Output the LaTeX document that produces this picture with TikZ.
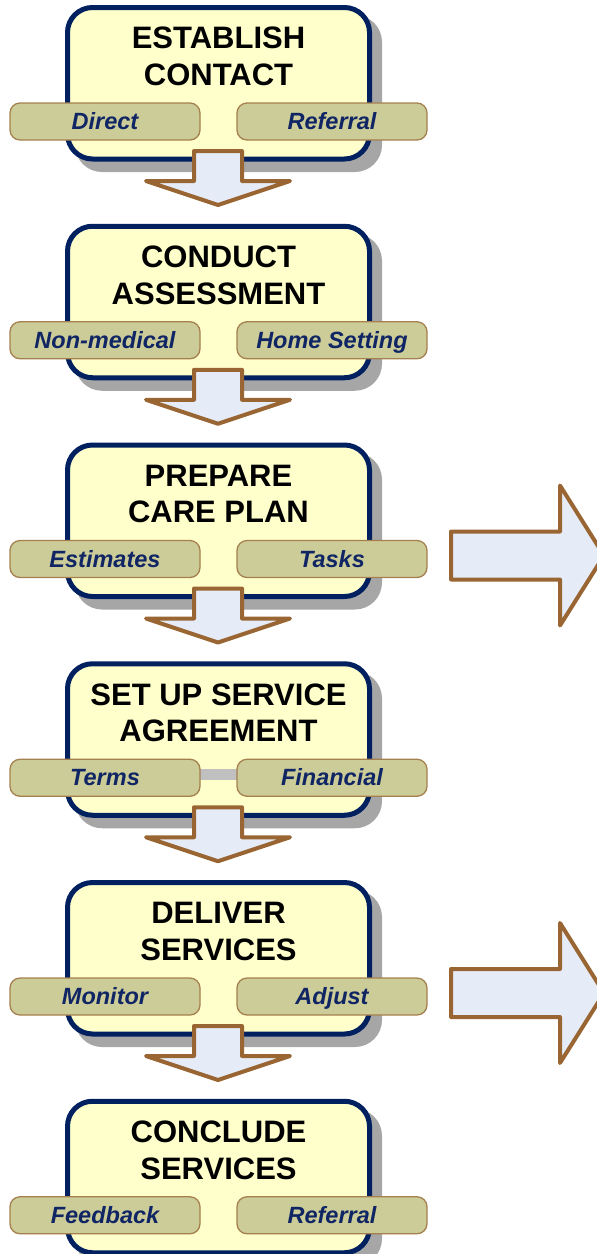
\documentclass[tikz,border=0pt]{standalone}
\usepackage{fontspec}
\setmainfont{Liberation Sans}
\definecolor{navy}{RGB}{0,32,96}
\definecolor{pilltxt}{RGB}{16,37,100}
\definecolor{boxfill}{RGB}{255,255,204}
\definecolor{pillfill}{RGB}{204,204,153}
\definecolor{pillline}{RGB}{165,128,79}
\definecolor{arrline}{RGB}{153,102,51}
\definecolor{arrfill}{RGB}{230,236,247}
\definecolor{shadowgray}{RGB}{166,166,166}
\definecolor{bargray}{RGB}{192,192,192}
\begin{document}
\begin{tikzpicture}[x=1pt,y=-1pt,
  stepbox/.style={draw=navy, line width=5pt, fill=boxfill, rounded corners=25pt,
    minimum width=302pt, minimum height=151.5pt, inner sep=0pt},
  boxshadow/.style={fill=shadowgray, rounded corners=27pt},
  title/.style={align=center, inner sep=0pt,
    font=\fontsize{31}{36.5}\selectfont\bfseries},
  pill/.style={draw=pillline, line width=1.3pt, fill=pillfill, rounded corners=10pt,
    minimum width=190pt, minimum height=37pt, inner sep=0pt,
    text height=19pt, text depth=3pt, text=pilltxt,
    font=\fontsize{23.5}{28}\selectfont\bfseries\itshape},
  blockarrow/.style={draw=arrline, fill=arrfill, line width=4pt, line join=round},
  linkbar/.style={fill=bargray}
]
\useasboundingbox (0,0) rectangle (597,1254);
\clip (0,0) rectangle (597,1254);
\foreach \k/\la/\lb/\pa/\pb in {%
  0/ESTABLISH/CONTACT/Direct/Referral,
  1/CONDUCT/ASSESSMENT/Non-medical/Home Setting,
  2/PREPARE/CARE PLAN/Estimates/Tasks,
  3/SET UP SERVICE/AGREEMENT/Terms/Financial,
  4/DELIVER/SERVICES/Monitor/Adjust,
  5/CONCLUDE/SERVICES/Feedback/Referral}{
  \pgfmathsetmacro\dy{\k*218.75}
  \begin{scope}[shift={(0,\dy)}]
    \fill[boxshadow] (75,15) rectangle (382,172);
    \node[stepbox] (box\k) at (218.5,83.25) {};
    \ifnum\k=3 \fill[linkbar] (199,112.75) rectangle (238,123.75); \fi
    \node[pill] (pl\k) at (105,121.5) {\pa};
    \node[pill] (pr\k) at (332,121.5) {\pb};
    \node[title] (t\k) at (218.5,56.5) {\la\\\lb};
    \ifnum\k<5
      \draw[blockarrow] (194,151) -- (242,151) -- (242,181) -- (290,181)
        -- (218,205) -- (146,181) -- (194,181) -- cycle;
    \fi
    \ifcase\k \or \or
      \draw[blockarrow] (451,94) -- (560,94) -- (560,48) -- (604,118)
        -- (560,188) -- (560,142) -- (451,142) -- cycle;
    \or \or
      \draw[blockarrow] (451,94) -- (560,94) -- (560,48) -- (604,118)
        -- (560,188) -- (560,142) -- (451,142) -- cycle;
    \fi
  \end{scope}
}
\end{tikzpicture}
\end{document}
